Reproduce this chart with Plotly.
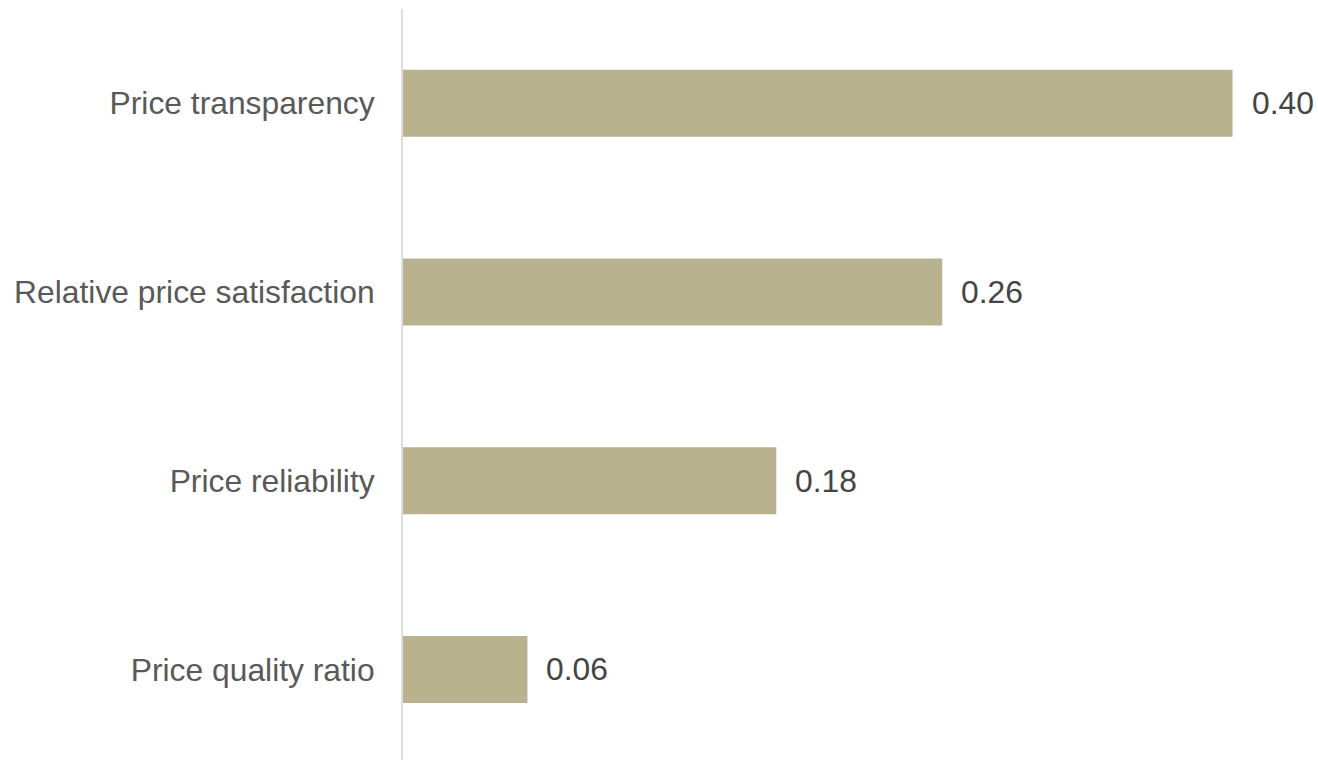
import plotly.graph_objects as go

categories = ["Price transparency", "Relative price satisfaction", "Price reliability", "Price quality ratio"]
values = [0.40, 0.26, 0.18, 0.06]

BAR_COLOR = "#B8B28E"
TEXT_COLOR = "#595959"
FONT = "Liberation Sans, Arial, sans-serif"
FONT_SIZE = 31.8

fig = go.Figure(
    go.Bar(
        x=values,
        y=categories,
        orientation="h",
        marker=dict(color=BAR_COLOR, line=dict(width=0)),
        width=0.355,
        hoverinfo="skip",
    )
)

# value labels to the right of each bar
for cat, val in zip(categories, values):
    fig.add_annotation(
        x=val, y=cat, text=f"{val:.2f}", showarrow=False,
        xanchor="left", xshift=17, yanchor="middle",
        font=dict(family=FONT, size=FONT_SIZE, color="#444444"),
    )

fig.update_layout(
    width=1318, height=760,
    margin=dict(l=403, r=0, t=9, b=0),
    plot_bgcolor="white", paper_bgcolor="white",
    showlegend=False,
    font=dict(family=FONT, size=FONT_SIZE, color=TEXT_COLOR),
    xaxis=dict(range=[0, 0.4412], visible=False, fixedrange=True),
    yaxis=dict(
        categoryorder="array", categoryarray=categories,
        range=[3.48, -0.5],
        autorange=False,
        showline=True, linecolor="#DDDDDD", linewidth=2,
        showgrid=False, zeroline=False, ticks="",
        ticklabelstandoff=20,
        tickfont=dict(family=FONT, size=FONT_SIZE, color=TEXT_COLOR),
        fixedrange=True,
    ),
)

fig.write_html("out.html", config={"displayModeBar": False})
